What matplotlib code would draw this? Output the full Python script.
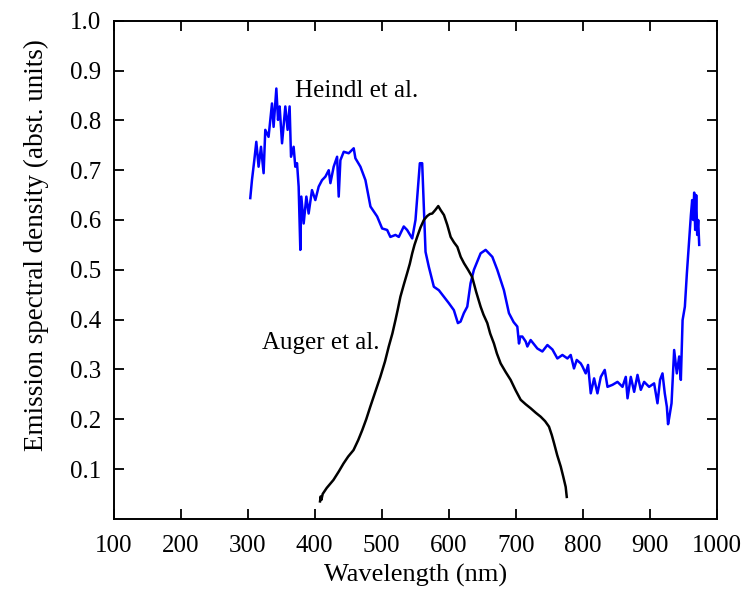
import matplotlib
matplotlib.use('Agg')
from matplotlib import pyplot as plt

# Heindl et al. (blue)
heindl_nm = [303.9, 306.4, 309.9, 312.9, 316.3, 319.9, 323.8, 326.3, 331.2, 336.3,
             338.7, 342.8, 345.3, 347.7, 351.3, 356.2, 359.6, 362.6, 364.7, 368.6,
             371.1, 373.7, 376.1, 378.6, 380.1, 383.6, 387.6, 391, 396, 401,
             406, 411, 416, 421, 423.5, 428.4, 433.5, 435.9, 438.4, 443.4,
             450.8, 458.3, 460.8, 468.3, 475.8, 483.3, 493.3, 500.7, 508.2, 513,
             520.6, 525.6, 533, 538, 545.6, 550.5, 554, 557, 560.5, 563,
             565.5, 570.4, 577.9, 585.4, 592.8, 600.3, 607.8, 613.8, 617.8, 622.7,
             627.8, 632.7, 637.7, 647.7, 655.2, 665.2, 672.6, 682.5, 690, 697,
             702.5, 705, 707, 710, 715, 717.5, 722.4, 732.4, 739.9, 747.4,
             754.9, 762.3, 769.8, 777.3, 782.2, 787.1, 791.2, 797.2, 799.7, 804.6,
             808.1, 812.1, 817.1, 822.1, 827.1, 833, 837.1, 844.5, 852, 859.5,
             864.4, 867, 871.9, 876.9, 881.9, 886.8, 891.8, 899.2, 906.7, 911.7,
             915.6, 919.2, 922.6, 925.7, 927.5, 929.1, 932.7, 936.6, 940.6, 944.1,
             946.6, 949.2, 952.6, 955.6, 959, 961.6, 963.5, 965, 966.5, 968,
             969.5, 971, 972.5, 974]
heindl_val = [0.644, 0.680, 0.720, 0.757, 0.707, 0.747, 0.694, 0.781, 0.767, 0.834,
              0.787, 0.864, 0.801, 0.828, 0.754, 0.828, 0.781, 0.828, 0.727, 0.747,
              0.707, 0.714, 0.667, 0.540, 0.647, 0.593, 0.647, 0.613, 0.660, 0.640,
              0.667, 0.680, 0.687, 0.700, 0.674, 0.707, 0.727, 0.647, 0.720, 0.737,
              0.734, 0.744, 0.724, 0.707, 0.680, 0.627, 0.607, 0.583, 0.580, 0.566,
              0.570, 0.566, 0.587, 0.580, 0.563, 0.600, 0.660, 0.714, 0.714, 0.627,
              0.536, 0.506, 0.466, 0.459, 0.446, 0.433, 0.419, 0.393, 0.396, 0.413,
              0.426, 0.473, 0.500, 0.533, 0.540, 0.526, 0.500, 0.459, 0.413, 0.395,
              0.386, 0.352, 0.366, 0.366, 0.356, 0.346, 0.359, 0.342, 0.336, 0.349,
              0.340, 0.322, 0.329, 0.322, 0.329, 0.302, 0.319, 0.312, 0.306, 0.292,
              0.309, 0.252, 0.282, 0.252, 0.285, 0.299, 0.265, 0.269, 0.275, 0.265,
              0.285, 0.242, 0.285, 0.255, 0.289, 0.259, 0.275, 0.265, 0.272, 0.232,
              0.279, 0.292, 0.252, 0.225, 0.190, 0.202, 0.232, 0.339, 0.292, 0.326,
              0.279, 0.399, 0.426, 0.493, 0.560, 0.610, 0.640, 0.600, 0.655, 0.580,
              0.650, 0.570, 0.600, 0.550]

# Auger et al. (black)
auger_nm = [408, 409, 410, 412, 418, 428, 436, 443, 450, 458,
            465, 471, 477, 483, 490, 498, 505, 510.6, 516, 520.6,
            524, 528, 533, 538, 542, 545.6, 549, 553, 558, 563,
            568, 572, 575.5, 580, 584.5, 588, 593, 598, 603, 608,
            613, 618, 623, 629, 635, 641, 647.7, 652, 657.7, 662,
            667.6, 672, 677.6, 685, 692.5, 700, 707.5, 715, 722.4, 730,
            737.4, 744, 749.8, 754, 757.3, 762, 767.3, 771, 774.7, 776.3]
auger_val = [0.035, 0.045, 0.038, 0.050, 0.062, 0.078, 0.095, 0.111, 0.125, 0.138,
             0.158, 0.178, 0.200, 0.225, 0.253, 0.285, 0.316, 0.346, 0.372, 0.399,
             0.420, 0.446, 0.470, 0.493, 0.512, 0.533, 0.550, 0.566, 0.585, 0.600,
             0.608, 0.612, 0.613, 0.620, 0.628, 0.620, 0.610, 0.590, 0.566, 0.555,
             0.546, 0.526, 0.513, 0.500, 0.486, 0.456, 0.426, 0.410, 0.393, 0.372,
             0.352, 0.332, 0.312, 0.295, 0.279, 0.258, 0.239, 0.230, 0.222, 0.213,
             0.205, 0.196, 0.185, 0.168, 0.152, 0.128, 0.105, 0.085, 0.064, 0.044]

x_ticks = [100, 200, 300, 400, 500, 600, 700, 800, 900, 1000]
y_ticks = [0.1, 0.2, 0.3, 0.4, 0.5, 0.6, 0.7, 0.8, 0.9, 1.0]

plt.rcParams['font.family'] = ['Liberation Serif', 'DejaVu Serif']
plt.rcParams['font.size'] = 18

fig = plt.figure(figsize=(7.43, 5.92), dpi=100)
ax = fig.add_axes([0.153, 0.1236, 0.8115, 0.8413])

ax.plot(heindl_nm, heindl_val, color='#0000ff', lw=1.8)
ax.plot(auger_nm, auger_val, color='black', lw=1.8)

ax.text(371, 0.86, 'Heindl et al.', ha='left', va='center', fontsize=18)
ax.text(322, 0.353, 'Auger et al.', ha='left', va='center', fontsize=18)

ax.set_xlim(100, 1000)
ax.set_ylim(0, 1.0)
ax.set_xticks(x_ticks)
ax.set_yticks(y_ticks)
ax.set_yticklabels([f'{v:.1f}' for v in y_ticks])
ax.tick_params(direction='in', length=7, width=1.3, top=True, right=True)
ax.tick_params(axis='x', pad=12)
ax.tick_params(axis='y', pad=9)
for s in ax.spines.values():
    s.set_linewidth(1.4)

ax.set_xlabel('Wavelength (nm)', fontsize=19)
ax.set_ylabel('Emission spectral density (abst. units)', fontsize=19.5)
ax.xaxis.set_label_coords(0.5, -0.09)
ax.yaxis.set_label_coords(-0.108, 0.55)

fig.savefig('out.png', dpi=100)
